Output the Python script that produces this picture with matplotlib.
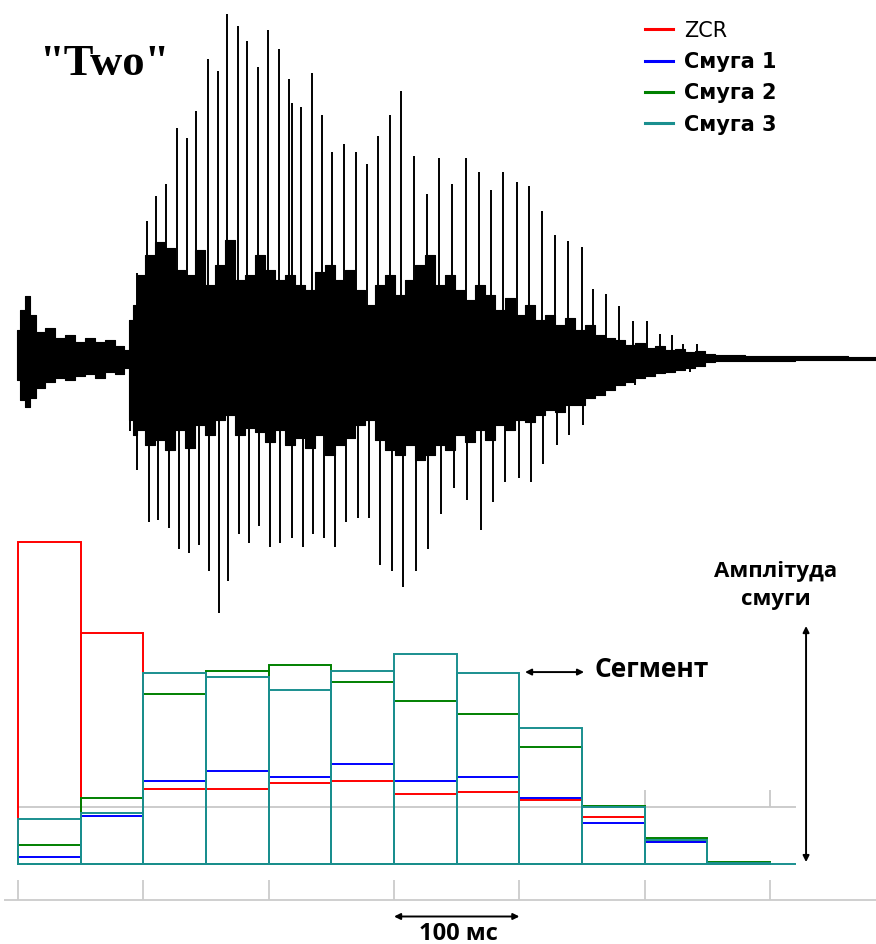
import matplotlib
matplotlib.use("Agg")
import matplotlib.pyplot as plt
from matplotlib.lines import Line2D

# --- segment energies (12 segments of 50 ms) ---
seg_start = [0, 50, 100, 150, 200, 250, 300, 350, 400, 450, 500, 550]
seg_width = 50
zcr   = [100, 71.7, 23.3, 23.3, 25.2, 25.8, 21.7, 22.4, 19.9, 14.6, 6.8, 0.3]
band1 = [2.2, 14.9, 25.8, 28.9, 27.0, 31.1, 25.8, 27.0, 20.5, 12.7, 6.8, 0.3]
band2 = [5.9, 20.5, 52.8, 59.9, 61.8, 56.5, 50.6, 46.6, 36.3, 18.0, 8.1, 0.6]
band3 = [14.0, 15.8, 59.3, 58.1, 54.0, 59.9, 65.2, 59.3, 42.2, 17.7, 7.5, 0.3]
labels = ["ZCR", "Смуга 1", "Смуга 2", "Смуга 3"]
colors = ["#ff0000", "#0000ff", "#008000", "#1a8f8f"]

time_ticks = [0, 100, 200, 300, 400, 500, 600]

# --- waveform of "Two": envelope of the dense part (ms, amplitude) ---
body_t  = [-0.8, 3.2, 7.2, 11.2, 17.6, 25.5, 33.5, 41.5, 49.5, 57.4, 65.4, 73.4, 81.4,
           87.0, 89.4, 93.3, 97.3, 105.3, 113.3, 121.3, 129.2, 137.2, 145.2, 153.2, 161.2,
           169.1, 177.1, 185.1, 193.1, 201.0, 209.0, 217.0, 225.0, 233.0, 240.9, 248.9,
           256.9, 264.9, 272.8, 280.8, 288.8, 296.8, 304.8, 312.7, 320.7, 328.7, 336.7,
           344.7, 352.6, 360.6, 368.6, 376.6, 384.5, 392.5, 400.5, 408.5, 416.5, 424.4,
           432.4, 440.4, 448.4, 456.3, 464.3, 472.3, 480.3, 488.2, 496.2, 504.2, 512.2,
           520.2, 528.1, 536.1, 544.1, 552.1, 560.1, 600.0, 640.0, 684.5]
body_hi = [30, 50, 64, 45, 28, 32, 22, 25, 18, 22, 18, 20, 14,
           10, 40, 55, 85, 105, 118, 112, 90, 85, 110, 75, 95,
           120, 80, 85, 105, 90, 80, 85, 75, 70, 88, 95,
           80, 90, 70, 55, 75, 85, 65, 80, 95, 105, 75,
           85, 70, 60, 75, 65, 50, 62, 45, 55, 40, 45,
           35, 42, 30, 35, 25, 22, 20, 15, 17, 12, 14,
           10, 11, 8, 9, 6, 5, 4, 4, 3]
body_lo = [-20, -40, -47, -38, -28, -22, -18, -20, -16, -14, -18, -12, -14,
           -8, -60, -75, -70, -85, -80, -90, -70, -88, -65, -75, -60,
           -55, -75, -68, -72, -82, -70, -85, -78, -88, -75, -95,
           -85, -78, -65, -60, -80, -90, -95, -85, -100, -95, -85,
           -90, -75, -82, -70, -80, -65, -70, -60, -62, -55, -50,
           -52, -45, -45, -38, -35, -30, -25, -22, -18, -16, -13,
           -12, -10, -8, -6, -2, -1, -1, 0, 0]

# glottal pulse peaks (positive side)
up_t = [89.4, 94.9, 102.9, 110.1, 118.1, 126.9, 134.8, 142.0, 151.6, 159.6, 166.7, 175.5,
        182.7, 191.5, 199.5, 208.2, 216.2, 218.6, 225.8, 234.5, 242.5, 250.5, 260.1, 269.6,
        278.4, 287.2, 296.8, 305.6, 315.9, 326.3, 335.9, 346.2, 357.4, 367.8, 377.4, 386.9,
        398.1, 407.7, 418.0, 428.4, 438.8, 450.0, 458.7, 469.1, 479.5, 490.6, 501.8, 512.2,
        521.8, 530.5, 541.7]
up_a = [40, 87, 139, 164, 176, 232, 222, 249, 301, 289, 346, 334, 319, 293, 330, 311, 281,
        257, 253, 287, 245, 208, 216, 208, 196, 224, 245, 269, 204, 166, 202, 176, 202, 188,
        170, 188, 178, 174, 149, 125, 119, 113, 71, 66, 54, 39, 39, 26, 25, 16, 16]
# glottal pulse peaks (negative side)
dn_t = [89.4, 94.9, 104.5, 111.7, 120.5, 128.4, 136.4, 144.4, 152.4, 160.4, 167.5, 176.3,
        184.3, 192.3, 201.0, 209.0, 218.6, 227.4, 235.3, 244.1, 252.9, 261.7, 271.3, 280.0,
        288.8, 298.4, 307.2, 317.5, 327.1, 337.5, 347.8, 358.2, 369.4, 379.0, 388.5, 399.7,
        409.3, 418.8, 430.0, 439.6, 450.7, 460.3, 470.7, 481.9, 492.3, 501.8, 512.2, 524.2,
        536.1, 546.5]
dn_a = [-71, -110, -162, -160, -168, -189, -193, -185, -211, -253, -221, -174, -183, -166,
        -187, -183, -178, -187, -174, -178, -187, -162, -158, -158, -205, -211, -227, -211,
        -189, -154, -128, -140, -170, -142, -122, -118, -122, -104, -85, -75, -65, -35, -31,
        -21, -25, -14, -10, -12, -12, -6]

fig = plt.figure(figsize=(8.76, 9.44), dpi=100)
xlim = (-14.36, 684.5)

# waveform panel
ax_w = fig.add_axes([0, 0, 1, 1])
ax_w.set_xlim(xlim)
ax_w.set_ylim(-584, 360)
ax_w.axis("off")
ax_w.fill_between(body_t, body_lo, body_hi, step="mid", color="black", lw=0.8)
ax_w.vlines(up_t, 0, up_a, color="black", lw=1.4)
ax_w.vlines(dn_t, dn_a, 0, color="black", lw=1.4)
ax_w.text(17, 285, '"Two"', fontsize=32, fontweight="bold",
          family=["Liberation Serif", "DejaVu Serif"], va="baseline")

# segment panel
ax = fig.add_axes([0, 0, 1, 1])
ax.patch.set_alpha(0)
ax.set_xlim(xlim)
ax.set_ylim(-24.84, 268.3)
ax.axis("off")

ax.hlines(17.7, 0, 620.6, color="#c8c8c8", lw=1.3, zorder=1)
ax.vlines(time_ticks, 17.7, 23, color="#c8c8c8", lw=1.3, zorder=1)
ax.hlines(0, 0, 620.6, color=colors[3], lw=1.4, zorder=2)

for vals, c in zip([zcr, band1, band2, band3], colors):
    ax.bar(seg_start, vals, width=seg_width, align="edge", fill=False,
           edgecolor=c, linewidth=1.4, zorder=3)

# time axis
ax.hlines(-11.2, -11.2, 684.5, color="#cccccc", lw=1.3)
ax.vlines(time_ticks, -11.2, -5.0, color="#cccccc", lw=1.3)

arrow = dict(arrowstyle="<|-|>", color="black", lw=1.4, mutation_scale=9,
             shrinkA=0, shrinkB=0)
txt_font = ["Open Sans", "DejaVu Sans"]
ax.annotate("", xy=(300, -16.3), xytext=(400, -16.3), arrowprops=arrow)
ax.text(351, -21.6, "100 мс", ha="center", va="center", fontsize=17,
        fontweight="bold", family=txt_font)

ax.annotate("", xy=(404.5, 59.6), xytext=(451.6, 59.6), arrowprops=arrow)
ax.text(460, 60.5, "Сегмент", ha="left", va="center", fontsize=19,
        fontweight="bold", family=txt_font)

ax.annotate("", xy=(628.7, 0.6), xytext=(628.7, 73.9), arrowprops=arrow)
ax.text(604.7, 86.6, "Амплітуда\nсмуги", ha="center", va="center", fontsize=16,
        fontweight="bold", family=txt_font, linespacing=1.45)

# legend
handles = [Line2D([], [], color=c, lw=2.2) for c in colors]
leg = ax.legend(handles, labels, loc="upper left", bbox_to_anchor=(0.7365, 0.978),
                bbox_transform=fig.transFigure, frameon=False, fontsize=15,
                handlelength=1.35, handletextpad=0.5, labelspacing=0.54,
                borderpad=0, borderaxespad=0)
for i, t in enumerate(leg.get_texts()):
    t.set_family(["DejaVu Sans"])
    if i > 0:
        t.set_fontweight("bold")

fig.savefig("out.png", dpi=100)
